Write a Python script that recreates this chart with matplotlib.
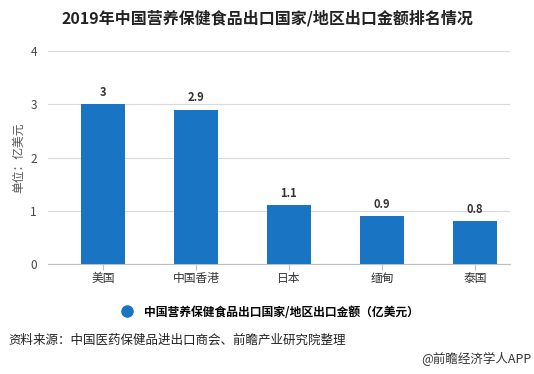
import matplotlib.pyplot as plt
from matplotlib.lines import Line2D

plt.rcParams['font.family'] = ['Noto Sans CJK SC', 'DejaVu Sans']

countries = ['美国', '中国香港', '日本', '缅甸', '泰国']
values = [3, 2.9, 1.1, 0.9, 0.8]
value_labels = ['3', '2.9', '1.1', '0.9', '0.8']
series_name = '中国营养保健食品出口国家/地区出口金额（亿美元）'

bar_color = '#1a74c4'

fig = plt.figure(figsize=(5.34, 3.74), dpi=100)
ax = fig.add_axes([48 / 534, 1 - 264 / 374, (510 - 48) / 534, (264 - 51) / 374])

x = list(range(len(countries)))
ax.bar(x, values, width=0.47, color=bar_color, zorder=3)
for xi, v, lab in zip(x, values, value_labels):
    ax.text(xi, v + 0.1, lab, ha='center', va='bottom', fontsize=8,
            fontweight='bold', color='#333333')

ax.set_xlim(-0.59, 4.376)
ax.set_ylim(0, 4)
ax.set_yticks([0, 1, 2, 3, 4])
ax.set_xticks(x)
ax.set_xticklabels(countries)
ax.grid(axis='y', color='#d9d9d9', linewidth=0.8, zorder=0)
for s in ['top', 'right', 'left']:
    ax.spines[s].set_visible(False)
ax.spines['bottom'].set_color('#bfbfbf')
ax.tick_params(axis='y', length=0, labelsize=8.5, labelcolor='#444444', pad=8)
ax.tick_params(axis='x', length=4, color='#bfbfbf', labelsize=8.5,
               labelcolor='#333333', pad=2)
ax.set_ylabel('单位：亿美元', fontsize=8.5, color='#555555', labelpad=4)

fig.text(0.5, 1 - 18 / 374, '2019年中国营养保健食品出口国家/地区出口金额排名情况',
         ha='center', va='center', fontsize=11.5, fontweight='bold', color='#222222')

handle = Line2D([], [], marker='o', linestyle='', markersize=8,
                markerfacecolor=bar_color, markeredgecolor=bar_color)
fig.legend([handle], [series_name], loc='center', bbox_to_anchor=(0.5, 1 - 312 / 374),
           frameon=False, handletextpad=0.4,
           prop={'weight': 'bold', 'size': 8.5})

fig.text(8 / 534, 1 - 340 / 374, '资料来源：中国医药保健品进出口商会、前瞻产业研究院整理',
         ha='left', va='center', fontsize=9, color='#222222')
fig.text(532 / 534, 1 - 359 / 374, '@前瞻经济学人APP',
         ha='right', va='center', fontsize=9, color='#333333')

fig.savefig('out.png', dpi=100)
